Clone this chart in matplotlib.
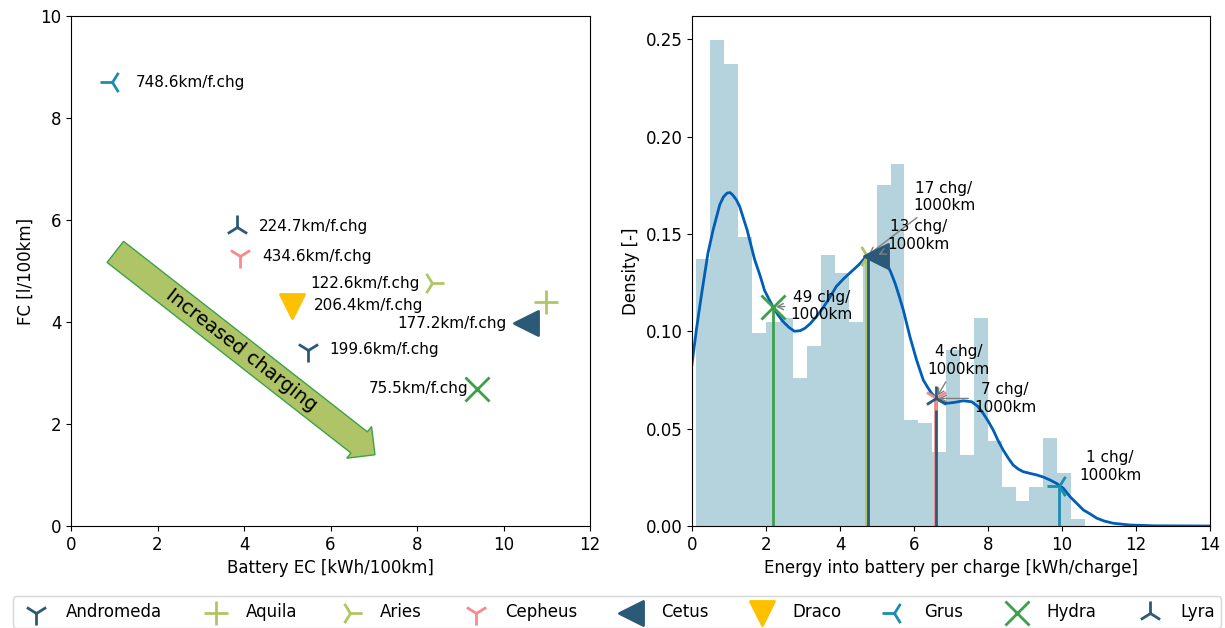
import matplotlib
matplotlib.use("Agg")
import matplotlib.pyplot as plt
import numpy as np

plt.rcParams["font.size"] = 12

# vehicles (left scatter + legend)
vehicles = ["Andromeda", "Aquila", "Aries", "Cepheus", "Cetus", "Draco", "Grus", "Hydra", "Lyra"]
markers = ["1", "+", "4", "1", "<", "v", "3", "x", "2"]
colors = ["#2b5a78", "#b0c663", "#b0c663", "#f78a8a", "#2b5a78", "#ffc000", "#1b8db0", "#3ca14a", "#2b5a78"]
battery_ec = [5.47, 10.99, 8.34, 3.90, 10.53, 5.10, 0.94, 9.39, 3.84]
fuel_cons = [3.46, 4.39, 4.76, 5.29, 3.98, 4.32, 8.70, 2.69, 5.87]
km_per_charge = ["199.6", None, "122.6", "434.6", "177.2", "206.4", "748.6", "75.5", "224.7"]
label_dx = [16, 0, -9, 16, -14, 16, 17, -6.5, 16]  # points

# histogram of energy per charge
bin_start, bin_end, n_bins = 0.116, 10.62, 28
hist_density = [0.137, 0.2495, 0.237, 0.1485, 0.099, 0.105, 0.1066, 0.076, 0.0924, 0.139,
                0.130, 0.105, 0.138, 0.175, 0.186, 0.0544, 0.0527, 0.0381, 0.0903, 0.0364,
                0.1066, 0.0436, 0.0202, 0.0128, 0.0202, 0.0453, 0.027, 0.0036]

# kde curve
kde_x = [0.0, 0.12, 0.25, 0.43, 0.57, 0.75, 0.85, 0.95, 1.03, 1.10, 1.20, 1.29, 1.49, 1.69,
         1.85, 1.96, 2.08, 2.19, 2.32, 2.46, 2.62, 2.77, 2.92, 3.05, 3.20, 3.36, 3.52, 3.68,
         3.90, 4.10, 4.27, 4.50, 4.72, 4.86, 5.00, 5.13, 5.26, 5.38, 5.49, 5.60, 5.71, 5.89,
         6.07, 6.25, 6.37, 6.48, 6.61, 6.75, 6.88, 7.10, 7.33, 7.56, 7.72, 7.87, 8.00, 8.14,
         8.27, 8.41, 8.55, 8.68, 8.82, 8.95, 9.14, 9.32, 9.50, 9.68, 9.86, 10.04, 10.22, 10.40,
         10.58, 10.76, 10.94, 11.15, 11.39, 11.84, 12.5, 14.0]
kde_y = [0.083, 0.101, 0.118, 0.140, 0.152, 0.165, 0.169, 0.171, 0.1712, 0.170, 0.1675, 0.164,
         0.152, 0.137, 0.128, 0.121, 0.1165, 0.1126, 0.1085, 0.105, 0.102, 0.100, 0.1003, 0.1015,
         0.104, 0.1075, 0.1115, 0.116, 0.123, 0.127, 0.130, 0.134, 0.1386, 0.1396, 0.140, 0.1385,
         0.135, 0.130, 0.1246, 0.118, 0.111, 0.0972, 0.0852, 0.075, 0.0712, 0.068, 0.0655, 0.0638,
         0.063, 0.0635, 0.0643, 0.0638, 0.0615, 0.0578, 0.054, 0.0493, 0.044, 0.039, 0.0348,
         0.0313, 0.0292, 0.0279, 0.0270, 0.0262, 0.0251, 0.0236, 0.0218, 0.0193, 0.015, 0.0116,
         0.0082, 0.0062, 0.004, 0.0025, 0.0014, 0.0005, 0.0001, 0.0]

# vertical lines in the density plot (vehicle, energy, density)
line_names = ["Hydra", "Aries", "Cetus", "Cepheus", "Lyra", "Grus"]
line_x = [2.19, 4.70, 4.76, 6.57, 6.60, 9.93]
line_top = [0.1126, 0.1386, 0.1386, 0.0655, 0.0655, 0.0205]

# markers + annotations in the density plot
mark_names = ["Hydra", "Aries", "Cetus", "Cepheus", "Lyra", "Grus"]
mark_x = [2.19, 4.72, 4.97, 6.59, 6.59, 9.93]
mark_y = [0.1126, 0.1386, 0.1387, 0.0655, 0.0655, 0.0205]
chg_text = ["49", "17", "13", "7", "4", "1"]
text_x = [3.50, 6.81, 6.12, 8.46, 7.21, 11.30]
text_y = [0.113, 0.169, 0.1492, 0.0655, 0.085, 0.0305]
has_arrow = [True, True, True, True, True, False]

style = {n: (m, c) for n, m, c in zip(vehicles, markers, colors)}

fig = plt.figure(figsize=(12.25, 6.28), dpi=100)
ax1 = fig.add_axes([71 / 1225, 102 / 628, 519 / 1225, 510 / 628])
ax2 = fig.add_axes([692 / 1225, 102 / 628, 518 / 1225, 510 / 628])

# ---- left: battery EC vs FC
handles = []
for name, m, c, x, y, km, dx in zip(vehicles, markers, colors, battery_ec, fuel_cons,
                                     km_per_charge, label_dx):
    h = ax1.scatter(x, y, marker=m, s=300, color=c, linewidths=2, label=name)
    handles.append(h)
    if km is not None:
        ax1.annotate(f"{km}km/f.chg", (x, y), xytext=(dx, 0), textcoords="offset points",
                     ha="left" if dx > 0 else "right", va="center", fontsize=11)

pad_spaces = " " * 10
ax1.text(3.93, 3.45, pad_spaces + "Increased charging" + pad_spaces, rotation=-38,
         ha="center", va="center", fontsize=14,
         bbox=dict(boxstyle="rarrow,pad=0.2", fc="#afc466", ec="#3ca14a", lw=1))

ax1.set_xlim(0, 12)
ax1.set_ylim(0, 10)
ax1.set_xticks(range(0, 13, 2))
ax1.set_yticks(range(0, 11, 2))
ax1.set_xlabel("Battery EC [kWh/100km]")
ax1.set_ylabel("FC [l/100km]")

# ---- right: density of energy per charge
edges = np.linspace(bin_start, bin_end, n_bins + 1)
ax2.bar(edges[:-1], hist_density, width=np.diff(edges), align="edge", color="#b5d3dc",
        linewidth=0)
ax2.plot(kde_x, kde_y, color="#005eb8", lw=2)

for name, x, top in zip(line_names, line_x, line_top):
    ax2.plot([x, x], [0, top], color=style[name][1], lw=2)

for name, x, y, n, tx, ty, arr in zip(mark_names, mark_x, mark_y, chg_text, text_x, text_y,
                                       has_arrow):
    m, c = style[name]
    ax2.scatter(x, y, marker=m, s=300, color=c, linewidths=2, zorder=3)
    ax2.annotate(f"{n} chg/\n1000km", (x, y), xytext=(tx, ty), ha="center", va="center",
                 fontsize=11,
                 arrowprops=dict(arrowstyle="->", color="gray", lw=1) if arr else None)

ax2.set_xlim(0, 14)
ax2.set_ylim(0, 0.2619)
ax2.set_xticks(range(0, 15, 2))
ax2.set_yticks([0.0, 0.05, 0.10, 0.15, 0.20, 0.25])
ax2.set_yticklabels(["0.00", "0.05", "0.10", "0.15", "0.20", "0.25"])
ax2.set_xlabel("Energy into battery per charge [kWh/charge]")
ax2.set_ylabel("Density [-]")

fig.legend(handles=handles, loc="center", bbox_to_anchor=(617 / 1225, 16 / 628), ncol=9,
           fontsize=12, columnspacing=2.2)

fig.savefig("out.png", dpi=100)
plt.close(fig)
